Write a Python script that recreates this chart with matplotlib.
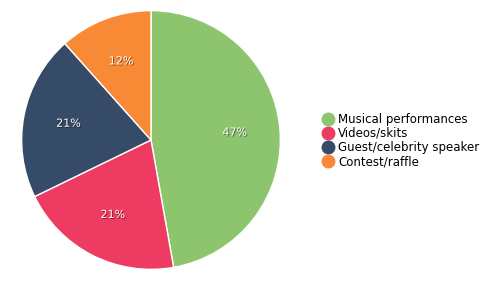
import matplotlib
matplotlib.use('Agg')
import matplotlib.pyplot as plt
import matplotlib.patheffects as pe
from matplotlib.lines import Line2D

labels = ["Musical performances", "Videos/skits", "Guest/celebrity speaker", "Contest/raffle"]
values = [47.2, 20.6, 20.6, 11.6]
colors = ["#8cc56e", "#ee3b61", "#354b68", "#f88a35"]

fig = plt.figure(figsize=(5, 2.81), dpi=100)
ax = fig.add_axes([21 / 500, 11 / 281, 260 / 500, 260 / 281])
wedges, texts, autotexts = ax.pie(values, colors=colors, startangle=90, counterclock=False,
                                  autopct=lambda p: f'{p:.0f}%', pctdistance=0.65,
                                  wedgeprops=dict(edgecolor='white', linewidth=1),
                                  textprops=dict(color='white', fontsize=8))
for t in autotexts:
    t.set_path_effects([pe.withSimplePatchShadow(offset=(0.7, -0.7), shadow_rgbFace='black', alpha=0.5)])
ax.set_xlim(-1.005, 1.005)
ax.set_ylim(-1.005, 1.005)
ax.set_aspect('equal')

handles = [Line2D([], [], marker='o', linestyle='', markersize=9, color=c) for c in colors]
fig.legend(handles, labels, loc='center left', bbox_to_anchor=(0.622, 0.5), frameon=False,
           fontsize=8.5, handletextpad=0.4, labelspacing=0.1, handlelength=1.0)

fig.savefig('out.png', dpi=100)
